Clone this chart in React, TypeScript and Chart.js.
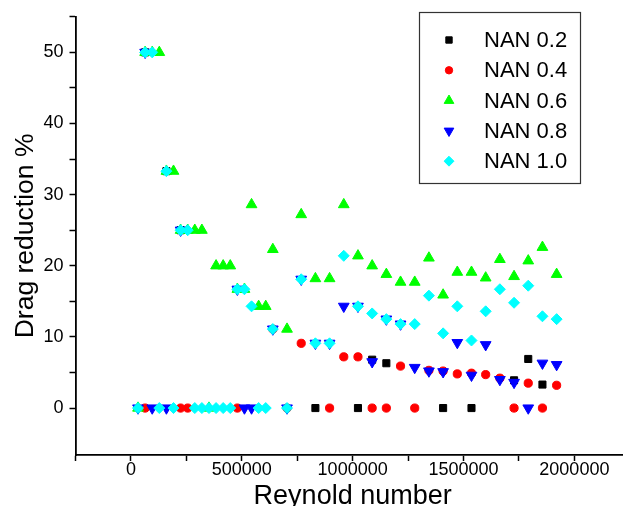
import React, { useEffect, useRef } from 'react';
import { Chart, registerables } from 'chart.js';

Chart.register(...registerables);

// Reynolds numbers (shared x positions)
const reynolds = [
  32000, 64000, 96000, 128000, 160000, 192000, 224000, 256000, 288000, 320000,
  352000, 384000, 416000, 448000, 480000, 512000, 544000, 576000, 608000, 640000,
  704000, 768000, 832000, 896000, 960000, 1024000, 1088000, 1152000, 1216000, 1280000,
  1344000, 1408000, 1472000, 1536000, 1600000, 1664000, 1728000, 1792000, 1856000, 1920000,
];

const nan02 = [
  null, 50, null, null, 33.3, null, 25, null, null, null,
  null, null, null, null, null, null, null, null, null, null,
  null, null, 0, null, null, 0, 6.8, 6.3, null, null,
  null, 0, null, 0, null, null, 3.9, 6.9, 3.3, null,
];

const nan04 = [
  null, 0, null, null, null, null, 0, 0, null, null,
  null, null, null, null, 0, null, null, null, null, 11.1,
  0, 9.1, null, 0, 7.2, 7.2, 0, 0, 5.9, 0,
  5.3, 5.2, 4.8, 4.9, 4.7, 4.2, 0, 3.5, 0, 3.2,
];

const nan06 = [
  0, 50, 50, 50, 33.3, 33.3, 25, 25, 25, 25,
  0, 20, 20, 20, 16.7, 16.7, 28.6, 14.3, 14.3, 22.3,
  11.1, 27.2, 18.2, 18.2, 28.6, 21.4, 20.0, 18.8, 17.7, 17.7,
  21.1, 15.9, 19.1, 19.1, 18.3, 20.9, 18.5, 20.7, 22.6, 18.8,
];

const nan08 = [
  0, 50, 0, null, 0, null, 25, null, null, null,
  null, null, null, null, 16.7, 0, 0, null, null, 11.1,
  0, 18.1, 9.1, 9.1, 14.3, 14.3, 6.5, 12.5, 11.8, 5.7,
  5.2, 5.1, 9.2, 4.6, 8.9, 4.0, 3.6, 0, 6.3, 6.1,
];

const nan10 = [
  0, 50, 50, 0, 33.3, 0, 25, 25, 0, 0,
  0, 0, 0, 0, 16.7, 16.7, 14.3, 0, 0, 11.1,
  0, 18.1, 9.1, 9.1, 21.4, 14.3, 13.3, 12.5, 11.8, 11.8,
  15.8, 10.5, 14.3, 9.5, 13.6, 16.7, 14.8, 17.2, 12.9, 12.5,
];

const seriesLabels = ['NAN 0.2', 'NAN 0.4', 'NAN 0.6', 'NAN 0.8', 'NAN 1.0'];
const seriesValues = [nan02, nan04, nan06, nan08, nan10];
const seriesColors = ['#000000', '#ff0000', '#00ff00', '#0000ff', '#00ffff'];
const seriesStyles = ['rect', 'circle', 'triangle', 'triangle', 'rectRot'];
const seriesRotations = [0, 0, 0, 180, 0];
const seriesRadii = [5.0, 4.1, 6.2, 6.2, 5.5];

// tick positions (major + minor) and the labelled ones
const xTickValues = [-250000, 0, 250000, 500000, 750000, 1000000, 1250000, 1500000, 1750000, 2000000, 2250000];
const xTickLabels = ['0', '500000', '1000000', '1500000', '2000000'];
const yTickValues = [0, 5, 10, 15, 20, 25, 30, 35, 40, 45, 50, 55];
const yTickLabels = ['0', '10', '20', '30', '40', '50'];

const FONT = "'Liberation Sans', Arial, sans-serif";

function drawMarker(ctx: CanvasRenderingContext2D, style: string, x: number, y: number, r: number, rot: number) {
  ctx.beginPath();
  if (style === 'rect') {
    const s = r * Math.SQRT1_2;
    ctx.rect(x - s, y - s, 2 * s, 2 * s);
  } else if (style === 'circle') {
    ctx.arc(x, y, r, 0, Math.PI * 2);
  } else if (style === 'triangle') {
    let rad = (rot * Math.PI) / 180;
    for (let i = 0; i < 3; i++) {
      const px = x + Math.sin(rad) * r;
      const py = y - Math.cos(rad) * r;
      if (i === 0) ctx.moveTo(px, py); else ctx.lineTo(px, py);
      rad += (2 * Math.PI) / 3;
    }
    ctx.closePath();
  } else if (style === 'rectRot') {
    ctx.moveTo(x - r, y);
    ctx.lineTo(x, y - r);
    ctx.lineTo(x + r, y);
    ctx.lineTo(x, y + r);
    ctx.closePath();
  }
  ctx.fill();
  ctx.stroke();
}

const boxLegend = {
  id: 'boxLegend',
  afterDraw(chart: any) {
    const ctx: CanvasRenderingContext2D = chart.ctx;
    ctx.save();
    ctx.strokeStyle = '#333333';
    ctx.lineWidth = 1.2;
    ctx.strokeRect(419.5, 12.5, 161, 171);
    ctx.font = `22px ${FONT}`;
    ctx.textBaseline = 'middle';
    ctx.textAlign = 'left';
    chart.data.datasets.forEach((ds: any, i: number) => {
      const y = 40 + i * 30.3;
      ctx.fillStyle = ds.backgroundColor;
      ctx.strokeStyle = ds.borderColor;
      ctx.lineWidth = 1;
      drawMarker(ctx, ds.pointStyle, 449, y, ds.pointRadius * 0.9, ds.pointRotation || 0);
      ctx.fillStyle = '#000000';
      ctx.fillText(ds.label, 484, y + 1);
    });
    ctx.restore();
  },
};

export default function App() {
  const canvasRef = useRef<HTMLCanvasElement | null>(null);

  useEffect(() => {
    const canvas = canvasRef.current;
    if (!canvas) return;

    const datasets = seriesLabels.map((label, i) => ({
      label,
      data: reynolds
        .map((x, j) => (seriesValues[i][j] === null ? null : { x, y: seriesValues[i][j] as number }))
        .filter((p) => p !== null),
      backgroundColor: seriesColors[i],
      borderColor: seriesColors[i],
      borderWidth: 1,
      pointStyle: seriesStyles[i],
      pointRotation: seriesRotations[i],
      pointRadius: seriesRadii[i],
      pointHoverRadius: seriesRadii[i],
      showLine: false,
      order: seriesLabels.length - i,
    }));

    const chart = new Chart(canvas, {
      type: 'scatter',
      data: { datasets: datasets as any },
      plugins: [boxLegend],
      options: {
        animation: false,
        responsive: false,
        devicePixelRatio: 1,
        layout: { padding: { left: 0, top: 15, right: 0, bottom: 0 } },
        plugins: { legend: { display: false }, tooltip: { enabled: false } },
        scales: {
          x: {
            type: 'linear',
            min: -250000,
            max: 2250000,
            afterBuildTicks: (scale: any) => {
              scale.ticks = xTickValues.map((value) => ({ value }));
            },
            afterFit: (scale: any) => { scale.height = 51; },
            border: { display: true, color: '#000000', width: 1.8 },
            grid: {
              display: true,
              drawOnChartArea: false,
              drawTicks: true,
              tickLength: 6,
              tickWidth: 1.5,
              tickColor: '#000000',
            },
            ticks: {
              autoSkip: false,
              maxRotation: 0,
              padding: -2,
              color: '#000000',
              font: { family: FONT, size: 18 },
              callback: (v: any) => {
                const s = String(Math.round(Number(v)));
                return xTickLabels.includes(s) ? s : '';
              },
            },
            title: {
              display: true,
              text: 'Reynold number',
              color: '#000000',
              font: { family: FONT, size: 27 },
              padding: { top: 0, bottom: -7 },
            },
          },
          y: {
            type: 'linear',
            min: -6.6,
            max: 55,
            afterBuildTicks: (scale: any) => {
              scale.ticks = yTickValues.map((value) => ({ value }));
            },
            afterFit: (scale: any) => { scale.width = 75.5; },
            border: { display: true, color: '#000000', width: 1.8 },
            grid: {
              display: true,
              drawOnChartArea: false,
              drawTicks: true,
              tickLength: 6,
              tickWidth: 1.5,
              tickColor: '#000000',
            },
            ticks: {
              autoSkip: false,
              padding: 6,
              color: '#000000',
              font: { family: FONT, size: 18 },
              callback: (v: any) => {
                const s = String(Math.round(Number(v)));
                return yTickLabels.includes(s) ? s : '';
              },
            },
            title: {
              display: true,
              text: 'Drag reduction %',
              color: '#000000',
              font: { family: FONT, size: 26.5 },
              padding: { top: 10, bottom: 0 },
            },
          },
        },
      },
    });

    return () => chart.destroy();
  }, []);

  return (
    <div style={{ position: 'absolute', left: 0, top: 0, width: '623px', height: '506px', overflow: 'hidden' }}>
      <canvas
        ref={canvasRef}
        width={637}
        height={506}
        style={{ display: 'block', width: '637px', height: '506px' }}
      />
    </div>
  );
}
